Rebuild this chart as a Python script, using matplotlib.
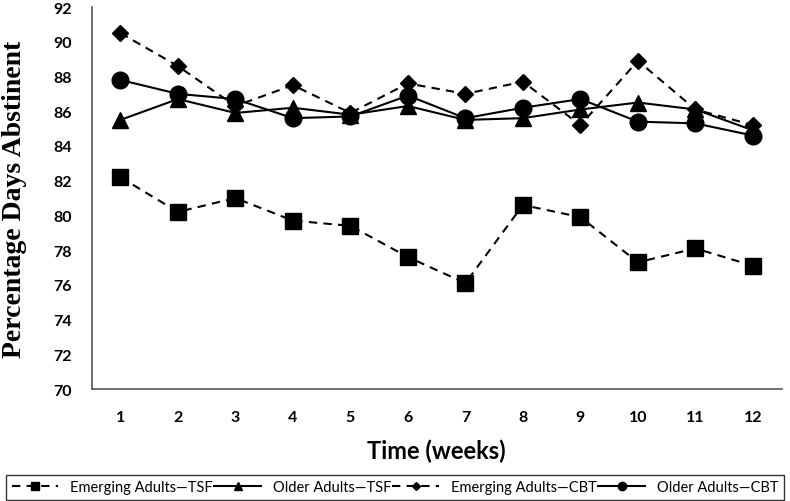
import matplotlib
matplotlib.use('Agg')
import matplotlib.pyplot as plt

weeks = list(range(1, 13))

# percentage days abstinent
emerging_tsf = [82.2, 80.2, 81.0, 79.7, 79.4, 77.6, 76.1, 80.6, 79.9, 77.3, 78.1, 77.1]
older_tsf = [85.5, 86.7, 85.9, 86.2, 85.8, 86.3, 85.5, 85.6, 86.1, 86.5, 86.1, 84.9]
emerging_cbt = [90.5, 88.6, 86.3, 87.5, 85.9, 87.6, 87.0, 87.7, 85.2, 88.9, 86.1, 85.2]
older_cbt = [87.8, 87.0, 86.7, 85.6, 85.7, 86.9, 85.6, 86.2, 86.7, 85.4, 85.3, 84.6]

y_ticks = list(range(70, 93, 2))

fig = plt.figure(figsize=(7.9, 5.02), dpi=100)
ax = fig.add_axes([0.116, 0.223, 0.8735, 0.761])

ax.plot(weeks, emerging_tsf, color='black', linestyle=(0, (4, 3)), linewidth=1.5,
        marker='s', markersize=12, label='Emerging Adults\u2014TSF')
ax.plot(weeks, older_tsf, color='black', linestyle='-', linewidth=1.5,
        marker='^', markersize=12, label='Older Adults\u2014TSF')
ax.plot(weeks, emerging_cbt, color='black', linestyle=(0, (4, 3)), linewidth=1.5,
        marker='D', markersize=8.5, label='Emerging Adults\u2014CBT')
ax.plot(weeks, older_cbt, color='black', linestyle='-', linewidth=1.5,
        marker='o', markersize=12, label='Older Adults\u2014CBT')

ax.set_xlim(0.5, 12.5)
ax.set_ylim(70, 92)
ax.set_xticks(weeks)
ax.set_yticks(y_ticks)

for side in ['top', 'right']:
    ax.spines[side].set_visible(False)
for side in ['left', 'bottom']:
    ax.spines[side].set_color('#555555')
    ax.spines[side].set_linewidth(1.2)

ax.tick_params(axis='both', length=0)
ax.tick_params(axis='y', pad=14)
ax.tick_params(axis='x', pad=15)
for lbl in ax.get_xticklabels() + ax.get_yticklabels():
    lbl.set_fontfamily('Lato')
    lbl.set_fontweight('bold')
    lbl.set_fontsize(11.5)

ax.set_xlabel('Time (weeks)', fontfamily='Lato', fontweight='bold', fontsize=17)
ax.xaxis.set_label_coords(0.5, -0.13)
ax.set_ylabel('Percentage Days Abstinent', fontfamily='Liberation Serif',
              fontweight='bold', fontsize=20)
ax.yaxis.set_label_coords(-0.094, 0.5)

leg = fig.legend(loc='center', ncol=4, mode='expand',
                 bbox_to_anchor=(6 / 790, 2 / 502, 778 / 790, 23 / 502),
                 borderaxespad=0, frameon=True, fancybox=False,
                 edgecolor='black', markerscale=0.5, handlelength=3.2,
                 prop={'family': 'Lato', 'size': 10.5})
leg.get_frame().set_linewidth(1.0)

fig.savefig('out.png', dpi=100, facecolor='white')
